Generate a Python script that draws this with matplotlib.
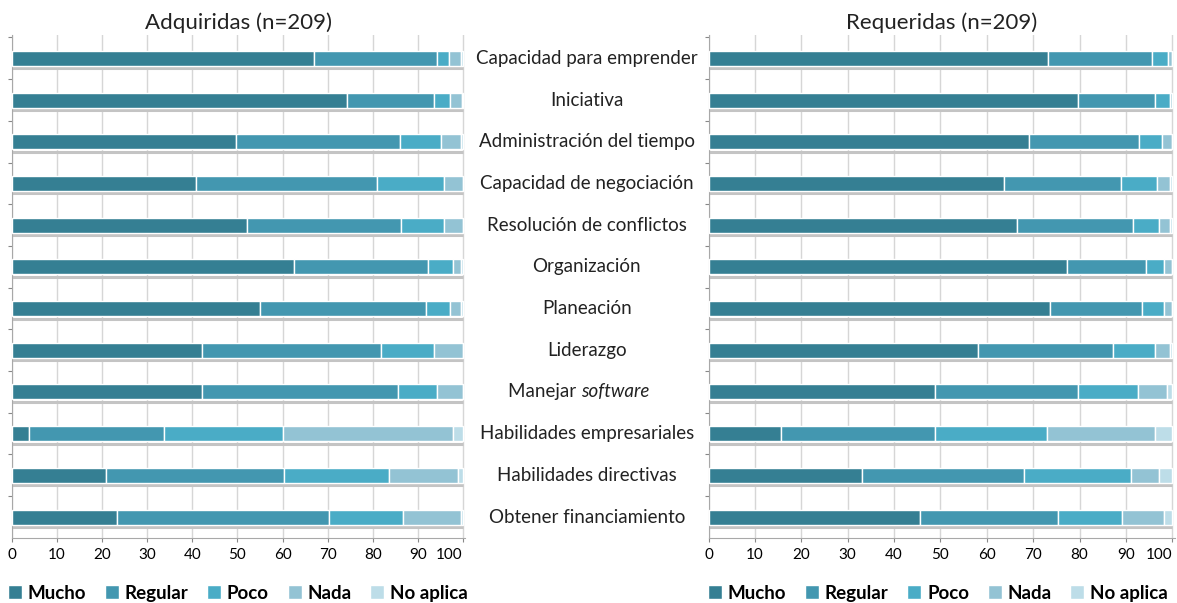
import matplotlib
matplotlib.use("Agg")
import matplotlib.pyplot as plt
import numpy as np

plt.rcParams['font.family'] = ['Lato', 'DejaVu Sans']

# Competencias (de arriba hacia abajo)
habilidades = [
    "Capacidad para emprender", "Iniciativa", "Administración del tiempo",
    "Capacidad de negociación", "Resolución de conflictos", "Organización",
    "Planeación", "Liderazgo", "Manejar software", "Habilidades empresariales",
    "Habilidades directivas", "Obtener financiamiento",
]
niveles = ["Mucho", "Regular", "Poco", "Nada", "No aplica"]
colores = ["#357f93", "#4397b0", "#4aacc6", "#93c3d4", "#bddde8"]

# Adquiridas (%)
adq_mucho = [67.0, 74.2, 49.6, 40.8, 52.2, 62.5, 55.0, 42.2, 42.1, 3.7, 20.8, 23.3]
adq_regular = [27.2, 19.5, 36.5, 40.1, 34.0, 29.8, 36.9, 39.6, 43.6, 30.1, 39.5, 47.0]
adq_poco = [2.8, 3.4, 9.1, 14.8, 9.5, 5.4, 5.2, 11.9, 8.5, 26.4, 23.4, 16.4]
adq_nada = [2.5, 2.8, 4.3, 4.3, 4.3, 1.8, 2.4, 6.3, 5.8, 37.6, 15.3, 12.8]
adq_noaplica = [0.5, 0.1, 0.5, 0.0, 0.0, 0.5, 0.5, 0.0, 0.0, 2.2, 1.0, 0.5]

# Requeridas (%)
req_mucho = [73.2, 79.6, 69.0, 63.6, 66.6, 77.3, 73.7, 58.0, 48.9, 15.7, 33.1, 45.5]
req_regular = [22.5, 16.7, 23.9, 25.3, 24.9, 17.0, 19.8, 29.3, 30.7, 33.2, 35.0, 29.8]
req_poco = [3.4, 3.3, 4.8, 7.7, 5.6, 3.9, 4.7, 9.0, 13.1, 24.0, 23.0, 13.8]
req_nada = [0.9, 0.4, 2.3, 3.0, 2.5, 1.8, 1.8, 3.3, 6.1, 23.4, 6.0, 9.1]
req_noaplica = [0.0, 0.0, 0.0, 0.4, 0.4, 0.0, 0.0, 0.4, 1.2, 3.7, 2.9, 1.8]

adquiridas = [adq_mucho, adq_regular, adq_poco, adq_nada, adq_noaplica]
requeridas = [req_mucho, req_regular, req_poco, req_nada, req_noaplica]

fig = plt.figure(figsize=(11.77, 6.03), dpi=100)
ax1 = fig.add_axes([0.0102, 0.108, 0.385, 0.834])
ax2 = fig.add_axes([0.602, 0.108, 0.396, 0.834])

y = np.arange(len(habilidades))
bar_h = 0.36


def dibujar(ax, series, titulo, leg_x):
    left = np.zeros(len(habilidades))
    for vals, nivel, c in zip(series, niveles, colores):
        ax.barh(y, vals, left=left, height=bar_h, color=c, edgecolor="white",
                linewidth=1.0, label=nivel, zorder=3)
        left += np.array(vals)
    # sombra gris bajo cada barra
    ax.hlines(y + bar_h / 2 + 0.06, 0, 100, color="#c4c4c4", linewidth=2.2, zorder=2)
    ax.set_xlim(0, 100.5)
    ax.set_ylim(11.5, -0.56)
    ax.set_xticks(np.arange(0, 101, 10))
    ax.set_yticks(np.arange(-0.5, 11.5, 1))
    ax.set_yticklabels([])
    ax.tick_params(axis="y", length=3, color="#888888", direction="out")
    ax.tick_params(axis="x", length=3, color="#888888", labelsize=11, pad=4)
    ax.get_xticklabels()[-1].set_horizontalalignment("right")
    ax.grid(axis="x", color="#d6d6d6", linewidth=1.0, zorder=0)
    for s in ["top", "right"]:
        ax.spines[s].set_visible(False)
    ax.spines["left"].set_color("#a8a8a8")
    ax.spines["bottom"].set_color("#a8a8a8")
    ax.set_title(titulo, fontsize=16, pad=4, color="#222222")
    ax.legend(loc="center", bbox_to_anchor=(leg_x, 0.016), bbox_transform=fig.transFigure,
              ncol=5, frameon=False, handlelength=0.75, handleheight=0.75,
              handletextpad=0.3, columnspacing=1.0, borderpad=0.1,
              prop={"size": 13.5, "weight": "bold"})


dibujar(ax1, adquiridas, "Adquiridas (n=209)", 0.202)
dibujar(ax2, requeridas, "Requeridas (n=209)", 0.797)

# etiquetas centrales
xc = 0.5 * (ax1.get_position().x1 + ax2.get_position().x0)
for i, nombre in enumerate(habilidades):
    yy = ax1.transData.transform((0, y[i]))[1]
    yf = fig.transFigure.inverted().transform((0, yy))[1]
    if nombre == "Manejar software":
        fig.text(xc - 0.005, yf, "Manejar ", ha="right", va="center", fontsize=13.5,
                 color="#222222")
        fig.text(xc - 0.005, yf, "software", ha="left", va="center", fontsize=13.5,
                 style="italic", color="#222222")
    else:
        fig.text(xc, yf, nombre, ha="center", va="center", fontsize=13.5, color="#222222")

fig.savefig("out.png", dpi=100)
